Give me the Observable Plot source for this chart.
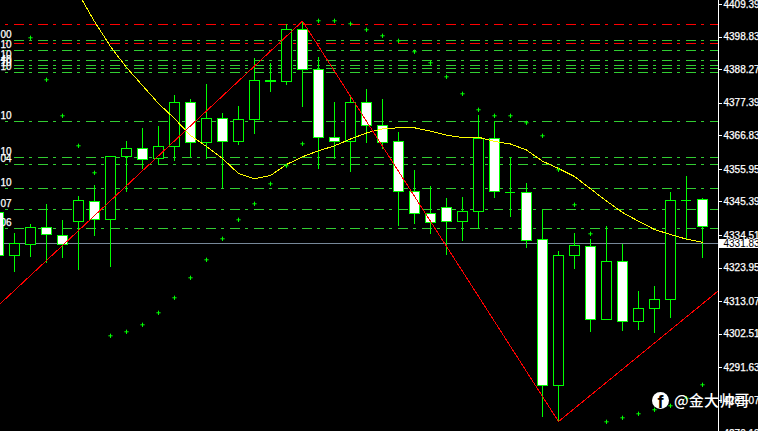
<!DOCTYPE html>
<html>
<head>
<meta charset="utf-8">
<script src="https://cdn.jsdelivr.net/npm/d3@7"></script>
<script src="https://cdn.jsdelivr.net/npm/@observablehq/plot@0.6"></script>
<style>
html,body{margin:0;padding:0;background:#000;overflow:hidden;width:758px;height:431px}
#wrap{position:relative;width:758px;height:431px;overflow:hidden}
.wm{position:absolute;color:#fff;white-space:nowrap;line-height:1}
#wmf{left:652px;top:392px;width:17px;height:17px;border-radius:50%;background:#fff;color:#000;font:bold 18px/20px "Liberation Sans";text-align:center}
#wmt{left:674px;top:391px;font:500 15px/18px "Noto Sans CJK SC";letter-spacing:0.2px}
</style>
</head>
<body>
<div id="wrap">
<div id="chart"></div>
<div class="wm" id="wmf">f</div>
<div class="wm" id="wmt">@金大帅哥</div>
</div>
<script>
const highs = [4344.23,4335.15,4338.07,4344.55,4339.37,4347.15,4350.71,4360.02,4364.98,4369.19,4369.84,4379.89,4378.50,4383.46,4373.96,4376.32,4391.79,4390.17,4402.91,4403.98,4392.11,4377.52,4379.79,4381.74,4378.50,4367.80,4355.48,4350.29,4346.40,4346.73,4373.31,4371.36,4359.69,4351.26,4342.84,4329.32,4335.15,4333.21,4337.42,4331.59,4316.25,4317.87,4348.35,4353.53,4346.50];
const bodyTops = [4341.86,4331.59,4337.00,4337.00,4334.41,4345.53,4345.43,4360.02,4362.61,4362.48,4363.26,4377.52,4377.52,4372.34,4372.34,4372.01,4384.66,4384.53,4401.19,4401.19,4388.22,4366.18,4377.52,4377.52,4370.07,4364.88,4348.67,4341.54,4343.48,4342.19,4365.85,4365.85,4348.54,4348.35,4333.11,4327.92,4331.16,4330.84,4325.98,4325.98,4310.74,4313.66,4345.75,4345.75,4346.08];
const bodyBottoms = [4327.86,4327.79,4331.36,4334.60,4331.36,4338.94,4339.46,4339.59,4359.89,4359.04,4359.37,4363.26,4364.56,4364.56,4364.88,4364.88,4371.88,4384.21,4384.33,4388.22,4366.18,4364.88,4364.88,4370.07,4364.56,4348.67,4341.54,4338.62,4338.94,4338.94,4342.06,4348.67,4348.54,4332.78,4285.78,4285.78,4327.92,4307.17,4307.17,4306.52,4306.52,4310.74,4313.66,4345.75,4337.32];
const lows = [4327.37,4322.61,4327.47,4325.52,4327.14,4323.25,4334.28,4324.23,4348.54,4355.90,4357.29,4358.59,4359.69,4359.04,4349.64,4363.68,4367.35,4380.96,4383.23,4375.90,4355.80,4359.24,4354.83,4364.23,4362.29,4337.32,4337.97,4334.73,4328.12,4332.46,4336.68,4346.60,4340.44,4330.39,4275.60,4274.20,4323.58,4303.15,4306.85,4303.48,4303.80,4302.83,4307.69,4332.78,4326.95];
const filled = [1,0,0,1,1,0,1,0,0,1,0,0,1,0,1,0,0,0,0,1,1,1,0,1,1,1,1,1,1,0,0,1,0,1,1,0,0,1,0,1,0,0,0,0,1];

const maStart = 5;
const maValues = [4412.96,4403.88,4395.78,4388.97,4383.13,4377.30,4372.43,4366.92,4363.36,4359.47,4354.60,4352.88,4353.95,4357.52,4360.02,4361.96,4363.58,4365.79,4367.73,4369.10,4369.42,4369.42,4368.32,4367.05,4366.27,4366.37,4364.98,4364.17,4362.22,4358.59,4356.22,4353.63,4349.64,4345.69,4341.96,4339.14,4336.45,4334.83,4333.30,4332.33];

const sarStart = 2;
const sarValues = [4398.60,4384.98,4373.31,4363.58,4354.83,4301.98,4303.28,4305.55,4309.44,4314.31,4320.79,4326.62,4333.43,4339.59,4344.78,4351.26,4357.10,4364.23,4404.11,4404.11,4403.14,4401.19,4399.25,4397.62,4394.06,4390.49,4385.95,4380.44,4375.26,4373.31,4373.31,4371.04,4366.83,4355.80,4344.46,4335.05,4274.10,4275.40,4276.70,4278.00,4279.29,4281.75,4286.10];

const zigzagIndex = [0.125,19,35,44.94];
const zigzagPrice = [4312.46,4403.98,4274.20,4316.35];

const redLevels = [4402.81,4396.65];
const greenLevels = [4397.62,4394.38,4391.14,4389.52,4388.55,4387.25,4371.36,4359.69,4357.42,4349.64,4342.84,4336.68];
const greenLabels = ["00","10","10","40","10","10","10","10","04","10","07","06"];

const tickValues = [4409.39,4398.83,4388.27,4377.39,4366.83,4355.95,4345.39,4334.51,4323.95,4313.07,4302.51,4291.63,4281.07,4270.19];
const lastPrice = 4331.83;
const lastPriceLabel = "4331.839";

const idx = highs.map((_, i) => i);
const isDoji = i => bodyTops[i] === bodyBottoms[i];
const bodies = idx.filter(i => !isDoji(i));
const dojis = idx.filter(isDoji);
const axisX = 44.97;
const halfBody = 0.3125;
const crisp = {shapeRendering: "crispEdges"};
const dash = {strokeDasharray: "9.5,5.5,3,6", strokeDashoffset: 10, ...crisp};
const GREEN = "#00ff00";
const font = '"Liberation Sans"';
const textBold = {stroke: "#fff", strokeWidth: 0.25};

const chart = Plot.plot({
  width: 758, height: 431,
  marginTop: 0, marginRight: 0, marginBottom: 0, marginLeft: 0,
  style: {background: "#000", overflow: "hidden"},
  x: {domain: [0.125, 47.5], axis: null},
  y: {domain: [4270.96, 4410.69], axis: null},
  marks: [
    Plot.ruleY(greenLevels, {x1: 0.125, x2: axisX, stroke: "#32cd32", ...dash}),
    Plot.ruleY(redLevels, {x1: 0.125, x2: axisX, stroke: "#ff0000", ...dash}),
    Plot.ruleY([lastPrice], {x1: 0.125, x2: axisX, stroke: "#778899", ...crisp}),
    Plot.ruleX(idx, {x: i => i, y1: i => lows[i], y2: i => highs[i], stroke: GREEN, ...crisp}),
    Plot.rect(bodies, {
      x1: i => i - halfBody, x2: i => i + halfBody,
      y1: i => bodyBottoms[i], y2: i => bodyTops[i],
      fill: i => filled[i] ? "#fff" : "#000", stroke: GREEN, strokeWidth: 1, ...crisp
    }),
    Plot.ruleY(dojis, {
      y: i => bodyTops[i],
      x1: i => i - halfBody, x2: i => i + halfBody + 0.03, stroke: GREEN, ...crisp
    }),
    Plot.line(maValues, {x: (_, i) => i + maStart, y: d => d, stroke: "#ffff00", strokeWidth: 1, clip: true, ...crisp}),
    Plot.line(zigzagPrice, {x: (_, i) => zigzagIndex[i], y: d => d, stroke: "#ff0000", strokeWidth: 1, clip: true, ...crisp}),
    Plot.dot(sarValues, {x: (_, i) => i + sarStart, y: d => d, symbol: "plus", r: 1.5, stroke: GREEN, strokeWidth: 1}),
    Plot.ruleX([axisX], {stroke: "#fff", ...crisp}),
    Plot.ruleY(tickValues, {x1: axisX, x2: 45.22, stroke: "#fff", ...crisp}),
    Plot.text(tickValues, {x: 45.31, y: d => d, text: d => d.toFixed(3), textAnchor: "start", fill: "#fff", ...textBold, fontSize: 10, fontFamily: font}),
    Plot.text(greenLevels, {x: 0.8125, y: d => d, dy: -6, text: (_, i) => greenLabels[i], textAnchor: "end", fill: "#fff", ...textBold, fontSize: 10, fontFamily: font}),
    Plot.rect([lastPrice], {x1: 45.06, x2: 47.5, y1: 4330.29, y2: 4333.21, fill: "#fff", ...crisp}),
    Plot.text([lastPrice], {x: 45.31, y: d => d, text: () => lastPriceLabel, textAnchor: "start", fill: "#000", fontSize: 10, fontFamily: font})
  ]
});
document.getElementById("chart").append(chart);
</script>
</body>
</html>
